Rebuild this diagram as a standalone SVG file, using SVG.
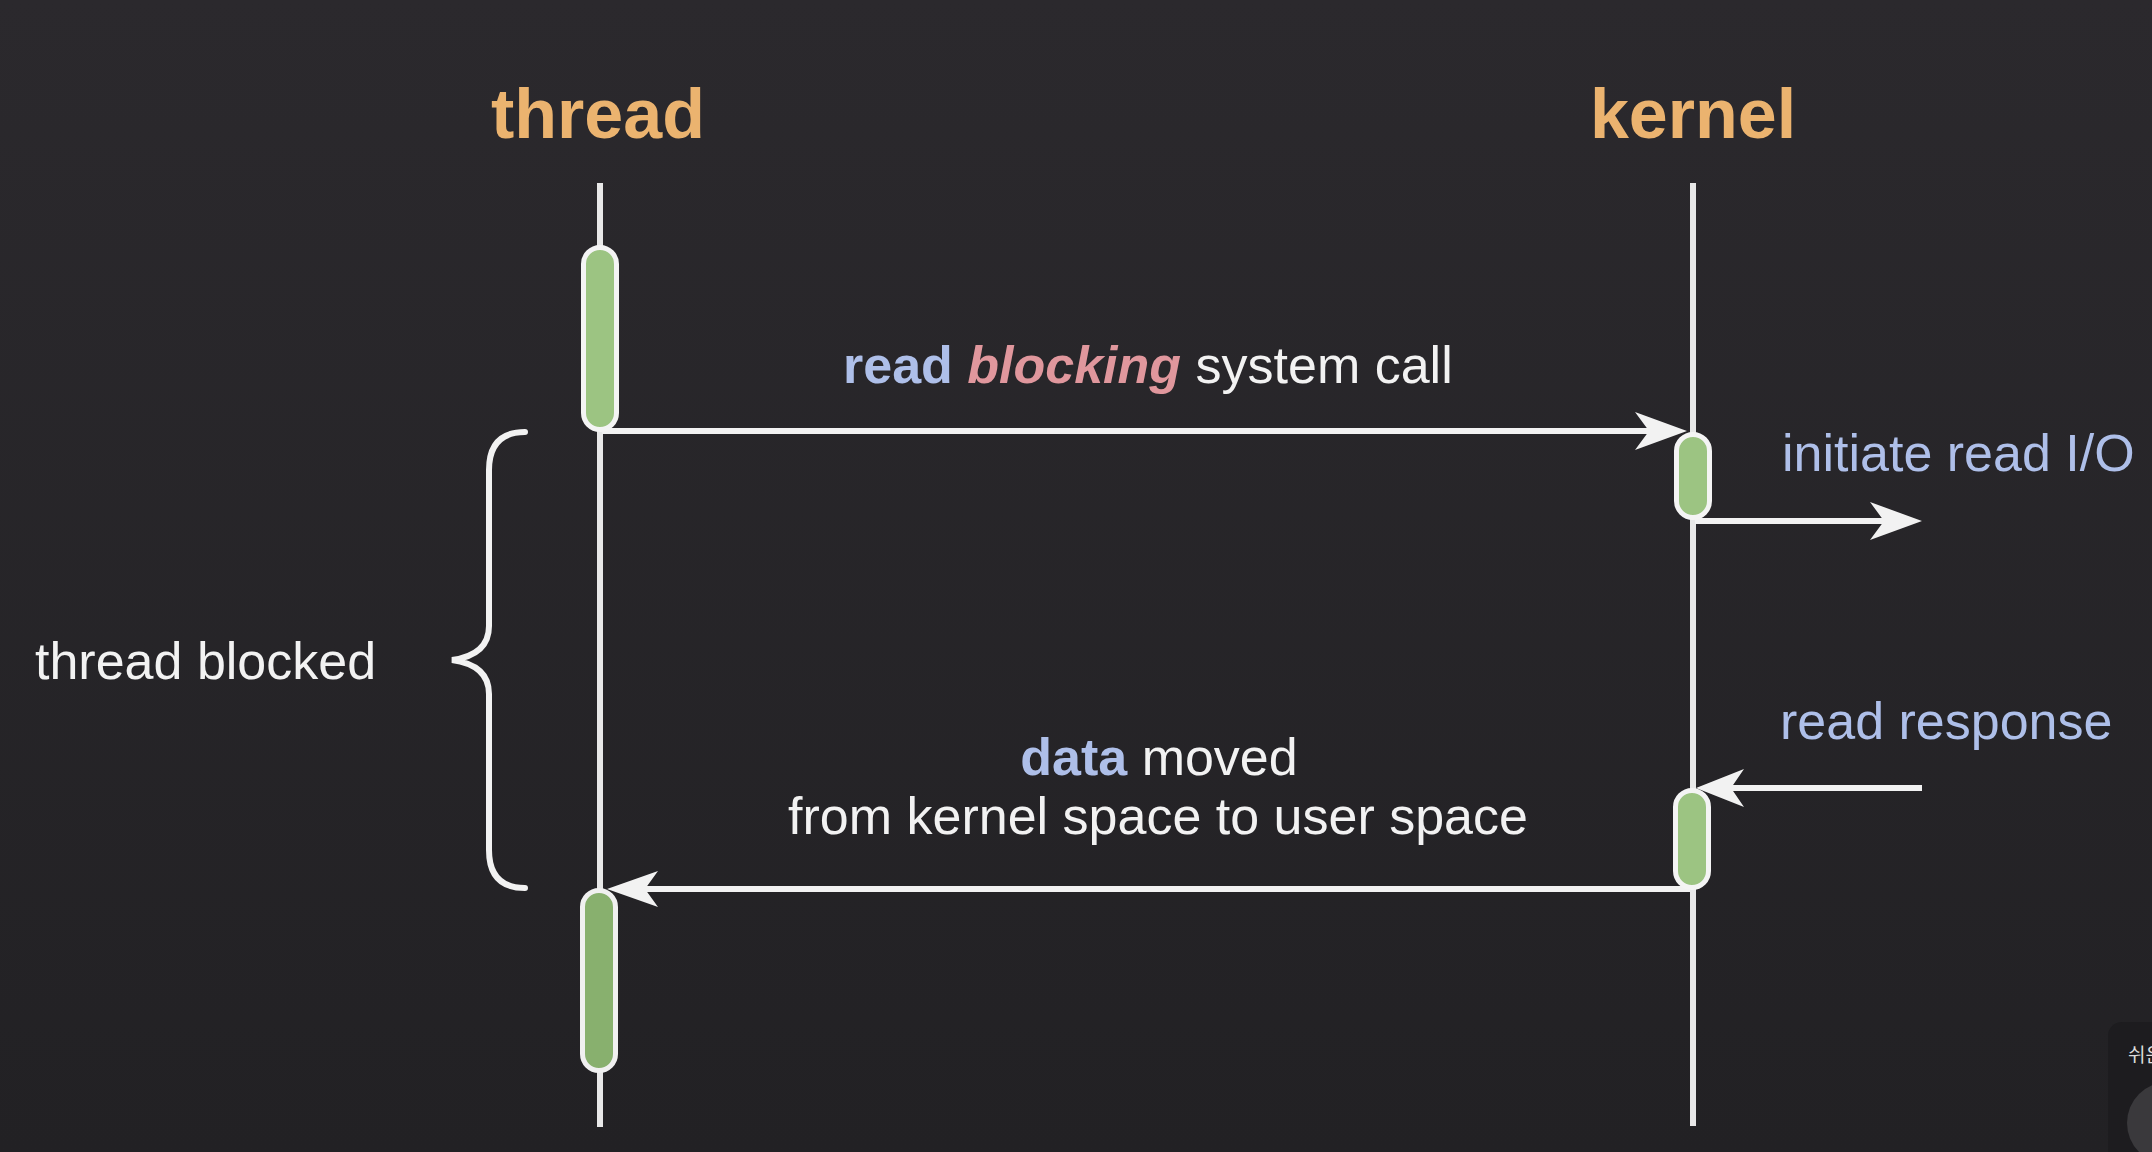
<svg xmlns="http://www.w3.org/2000/svg" width="2152" height="1152" viewBox="0 0 2152 1152">
  <defs>
    <linearGradient id="bg" x1="0" y1="0" x2="0" y2="1">
      <stop offset="0" stop-color="#2b292d"/>
      <stop offset="1" stop-color="#222124"/>
    </linearGradient>
    <style>
      .title { font-family: "Liberation Sans", Arial, sans-serif; font-weight: bold; font-size: 70px; fill: #ebb36f; text-anchor: middle; }
      .lbl { font-family: "Liberation Sans", Arial, sans-serif; font-size: 52px; fill: #f2f2f2; }
      .blue { fill: #aebfe9; }
      .pink { fill: #e0979d; }
      .lifeline { stroke: #e8e8e8; stroke-width: 6; fill: none; }
      .act { fill: #9cc482; stroke: #f4f4f4; stroke-width: 5; }
      .act2 { fill: #88b06e; stroke: #f0f0f0; stroke-width: 5; }
      .msg { stroke: #f2f2f2; stroke-width: 6; fill: none; }
      .head { fill: #f2f2f2; }
      .brace { stroke: #f2f2f2; stroke-width: 6; fill: none; stroke-linecap: round; }
    </style>
  </defs>

  <rect x="0" y="0" width="2152" height="1152" fill="url(#bg)"/>

  <g id="thread">
    <text class="title" x="598" y="138">thread</text>
    <line class="lifeline" x1="600" y1="183" x2="600" y2="1127"/>
  </g>

  <g id="kernel">
    <text class="title" x="1693" y="138">kernel</text>
    <line class="lifeline" x1="1693" y1="183" x2="1693" y2="1126"/>
  </g>

  <g id="connectors">
    <line class="msg" x1="602" y1="431" x2="1660" y2="431"/>
    <polygon class="head" points="1687,431 1635,412 1649,431 1635,450"/>

    <line class="msg" x1="1695" y1="521" x2="1895" y2="521"/>
    <polygon class="head" points="1922,521 1870,502 1884,521 1870,540"/>

    <line class="msg" x1="1922" y1="788" x2="1720" y2="788"/>
    <polygon class="head" points="1696,788 1744,769 1731,788 1744,807"/>

    <line class="msg" x1="1690" y1="889" x2="635" y2="889"/>
    <polygon class="head" points="607,889 658,871 645,889 658,907"/>
  </g>

  <g id="thread-active-1">
    <rect class="act" x="583.5" y="247.5" width="33" height="182" rx="16.5"/>
  </g>
  <g id="kernel-active-1">
    <rect class="act" x="1676.5" y="434.5" width="33" height="83" rx="16.5"/>
  </g>
  <g id="kernel-active-2">
    <rect class="act" x="1675.5" y="790.5" width="33" height="97" rx="16.5"/>
  </g>
  <g id="thread-active-2">
    <rect class="act2" x="582.5" y="890.5" width="33" height="180" rx="16.5"/>
  </g>

  <g id="label-call">
    <text class="lbl" x="843" y="383"><tspan class="blue" font-weight="bold">read</tspan> <tspan class="pink" font-weight="bold" font-style="italic">blocking</tspan> system call</text>
  </g>

  <g id="label-initiate">
    <text class="lbl blue" x="1782" y="471">initiate read I/O</text>
  </g>

  <g id="label-response">
    <text class="lbl blue" x="1780" y="739" font-size="53">read response</text>
  </g>

  <g id="label-data">
    <text class="lbl" x="1159" y="775" text-anchor="middle"><tspan class="blue" font-weight="bold">data</tspan> moved</text>
    <text class="lbl" x="1158" y="834" text-anchor="middle">from kernel space to user space</text>
  </g>

  <g id="blocked">
    <path class="brace" d="M 525 432 Q 489 432 489 470 L 489 626 Q 489 655 452 660 Q 489 665 489 694 L 489 850 Q 489 888 525 888"/>
    <text class="lbl" x="35" y="679">thread blocked</text>
  </g>

  <g id="overlay">
    <rect x="2108" y="1022" width="80" height="160" rx="14" fill="#1d1c1f"/>
    <text x="2128" y="1062" font-family="Noto Sans CJK KR, sans-serif" font-size="19" fill="#dcdcdc">쉬운</text>
    <circle cx="2168" cy="1123" r="41" fill="#3a393c"/>
  </g>
</svg>
